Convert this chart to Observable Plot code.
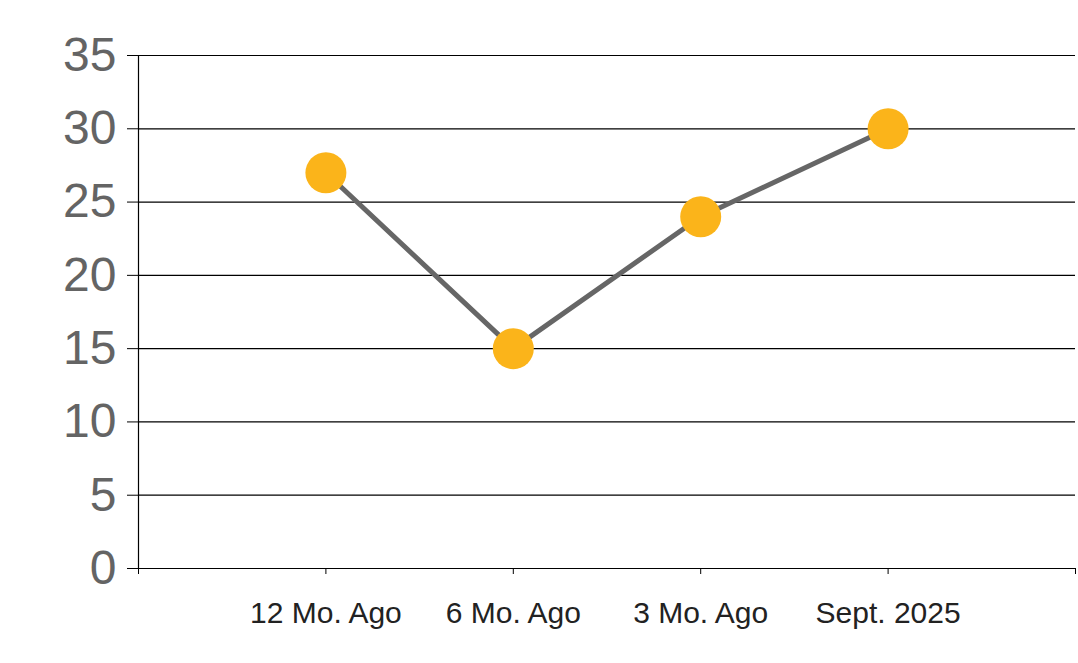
<!DOCTYPE html>
<html>
<head>
<meta charset="utf-8">
<script src="https://cdn.jsdelivr.net/npm/d3@7"></script>
<script src="https://cdn.jsdelivr.net/npm/@observablehq/plot@0.6"></script>
<style>
  html, body { margin: 0; padding: 0; background: #fff; }
  #chart svg { display: block; }
</style>
</head>
<body>
<div id="chart"></div>
<script>
const categories = ["12 Mo. Ago", "6 Mo. Ago", "3 Mo. Ago", "Sept. 2025"];
const values = [27, 15, 24, 30];
const yTicks = [0, 5, 10, 15, 20, 25, 30, 35];
const xTicks = [0, 1, 2, 3, 4, 5];

const data = categories.map((c, i) => ({pos: i + 1, label: c, value: values[i]}));

const chart = Plot.plot({
  width: 1078,
  height: 663,
  marginLeft: 138,
  marginRight: 3,
  marginTop: 55,
  marginBottom: 95,
  style: {fontFamily: "'Liberation Sans', Arial, sans-serif", background: "#fff"},
  x: {domain: [0, 5]},
  y: {domain: [0, 35]},
  marks: [
    Plot.ruleY(yTicks, {stroke: "#000", strokeWidth: 1.2}),
    Plot.ruleX([0], {stroke: "#000", strokeWidth: 1.2}),
    Plot.axisY({
      ticks: yTicks,
      tickSize: 11,
      tickPadding: 11,
      stroke: "#000",
      strokeOpacity: 1,
      fontSize: 48,
      fill: "#646464",
      label: null
    }),
    Plot.axisX({
      ticks: xTicks,
      tickSize: 6,
      tickPadding: 27,
      stroke: "#000",
      strokeOpacity: 1,
      fontSize: 30,
      fill: "#222",
      tickFormat: (d) => categories[d - 1] ?? "",
      label: null
    }),
    Plot.line(data, {x: "pos", y: "value", stroke: "#666666", strokeWidth: 5}),
    Plot.dot(data, {x: "pos", y: "value", r: 20.5, fill: "#FBB41A", stroke: "none"})
  ]
});
document.getElementById("chart").appendChild(chart);
</script>
</body>
</html>
